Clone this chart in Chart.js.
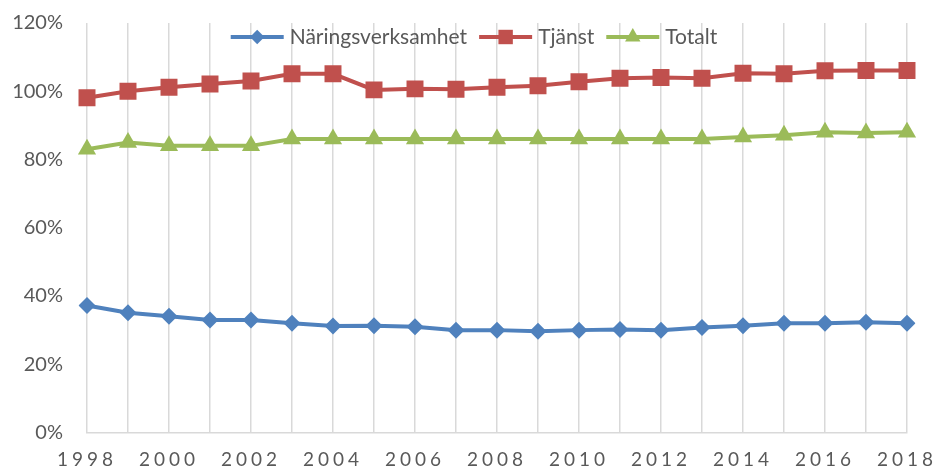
<!DOCTYPE html>
<html>
<head>
<meta charset="utf-8">
<script src="https://cdn.jsdelivr.net/npm/chart.js@4/dist/chart.umd.min.js"></script>
<style>
  html, body { margin: 0; padding: 0; background: #ffffff; }
  #wrap { width: 935px; height: 468px; }
</style>
</head>
<body>
<div id="wrap"><canvas id="c" width="935" height="468"></canvas></div>
<script>
const years = ['1998','1999','2000','2001','2002','2003','2004','2005','2006','2007','2008','2009','2010','2011','2012','2013','2014','2015','2016','2017','2018'];
const seriesNames = ['Näringsverksamhet', 'Tjänst', 'Totalt'];
const naring = [37.2, 35.1, 34.1, 33.0, 33.0, 32.0, 31.2, 31.3, 31.0, 30.0, 30.0, 29.7, 30.0, 30.2, 30.0, 30.8, 31.3, 32.0, 32.0, 32.3, 32.0];
const tjanst = [98.1, 100.0, 101.2, 102.1, 103.0, 105.1, 105.1, 100.4, 100.7, 100.6, 101.2, 101.6, 102.8, 103.8, 104.0, 103.8, 105.3, 105.1, 106.0, 106.1, 106.1];
const totalt = [83.0, 85.0, 84.0, 84.0, 84.0, 86.0, 86.0, 86.0, 86.0, 86.0, 86.0, 86.0, 86.0, 86.0, 86.0, 86.0, 86.6, 87.1, 88.0, 87.8, 88.0];
const yTickMin = 0, yTickMax = 120, yTickStep = 20;

const FONT = 'Lato, "Open Sans", sans-serif';
const TXT = '#595959';

function drawMarker(ctx, style, r, x, y, color) {
  ctx.fillStyle = color;
  ctx.beginPath();
  if (style === 'rectRot') {
    ctx.moveTo(x - r, y); ctx.lineTo(x, y - r); ctx.lineTo(x + r, y); ctx.lineTo(x, y + r);
  } else if (style === 'rect') {
    const s = r * Math.SQRT1_2;
    ctx.rect(x - s, y - s, 2 * s, 2 * s);
  } else {
    ctx.moveTo(x, y - r);
    ctx.lineTo(x + r * Math.sin(Math.PI / 3), y + r / 2);
    ctx.lineTo(x - r * Math.sin(Math.PI / 3), y + r / 2);
  }
  ctx.closePath();
  ctx.fill();
}

const legendPlugin = {
  id: 'customLegend',
  afterDraw(chart) {
    const ctx = chart.ctx;
    ctx.save();
    ctx.font = '21px ' + FONT;
    ctx.textBaseline = 'middle';
    ctx.textAlign = 'left';
    const lineW = 53, gap = 6, itemGap = 12, cy = 37, cx = 474;
    const items = chart.data.datasets.map(ds => ({ ds, w: lineW + gap + ctx.measureText(ds.label).width }));
    const total = items.reduce((a, it) => a + it.w, 0) + itemGap * (items.length - 1);
    let x = cx - total / 2;
    items.forEach(it => {
      const ds = it.ds;
      ctx.strokeStyle = ds.borderColor;
      ctx.lineWidth = 4;
      ctx.beginPath();
      ctx.moveTo(x, cy); ctx.lineTo(x + lineW, cy);
      ctx.stroke();
      drawMarker(ctx, ds.pointStyle, ds.pointRadius * 0.85, x + lineW / 2, cy, ds.pointBackgroundColor);
      ctx.fillStyle = TXT;
      ctx.fillText(ds.label, x + lineW + gap, cy);
      x += it.w + itemGap;
    });
    ctx.restore();
  }
};

const spacingPlugin = {
  id: 'xLetterSpacing',
  beforeDraw(chart) {
    const xs = chart.scales.x;
    if (xs && !xs._lsPatched) {
      const orig = xs.drawLabels.bind(xs);
      xs.drawLabels = function (area) {
        const c = this.ctx;
        c.save();
        try { c.letterSpacing = '4px'; } catch (e) {}
        orig(area);
        c.restore();
      };
      xs._lsPatched = true;
    }
  }
};

new Chart(document.getElementById('c'), {
  type: 'line',
  data: {
    labels: years,
    datasets: [
      { label: seriesNames[0], data: naring, borderColor: '#4F81BD', backgroundColor: '#4F81BD', pointBackgroundColor: '#4F81BD', borderWidth: 4, pointStyle: 'rectRot', pointRadius: 8.5, pointBorderWidth: 0, tension: 0 },
      { label: seriesNames[1], data: tjanst, borderColor: '#C0504D', backgroundColor: '#C0504D', pointBackgroundColor: '#C0504D', borderWidth: 4, pointStyle: 'rect', pointRadius: 12, pointBorderWidth: 0, tension: 0 },
      { label: seriesNames[2], data: totalt, borderColor: '#9BBB59', backgroundColor: '#9BBB59', pointBackgroundColor: '#9BBB59', borderWidth: 4, pointStyle: 'triangle', pointRadius: 10.5, pointBorderWidth: 0, tension: 0 }
    ]
  },
  options: {
    responsive: false,
    devicePixelRatio: 1,
    animation: false,
    layout: { padding: { top: 23, right: 28, left: 0, bottom: 0 } },
    plugins: { legend: { display: false }, tooltip: { enabled: false } },
    scales: {
      x: {
        type: 'category',
        offset: false,
        grid: { color: '#D9D9D9', lineWidth: 1.5, drawTicks: false },
        border: { color: '#D9D9D9', width: 1.5 },
        ticks: {
          autoSkip: false, maxRotation: 0, minRotation: 0, padding: 16,
          color: TXT, font: { family: FONT, size: 19 },
          callback: (v, i) => (i % 2 === 0 ? years[i] : '')
        },
        afterFit: s => { s.height = 35.5; s.paddingLeft = 0; s.paddingRight = 0; }
      },
      y: {
        min: yTickMin, max: yTickMax,
        grid: { display: false, drawTicks: false },
        border: { display: false },
        ticks: {
          stepSize: yTickStep, padding: 24, color: TXT,
          font: { family: FONT, size: 20 },
          callback: v => v + '%'
        },
        afterFit: s => { s.width = 87; s.paddingTop = 0; s.paddingBottom = 0; }
      }
    }
  },
  plugins: [legendPlugin, spacingPlugin]
});
</script>
</body>
</html>
